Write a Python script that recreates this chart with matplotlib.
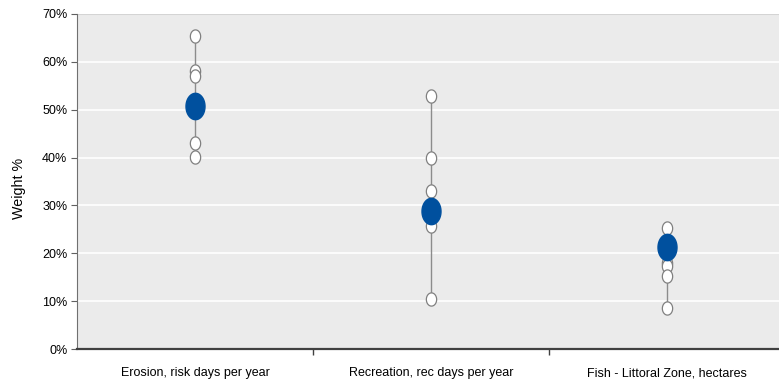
import matplotlib
matplotlib.use("Agg")
import matplotlib.pyplot as plt
import numpy as np
from matplotlib.path import Path
from matplotlib.ticker import FuncFormatter, FixedLocator

categories = ["Erosion, risk days per year", "Recreation, rec days per year", "Fish - Littoral Zone, hectares"]
individual = [
    [65.3, 58.0, 57.0, 43.0, 40.1],
    [52.8, 40.0, 33.0, 25.8, 10.4],
    [25.3, 17.9, 17.4, 15.3, 8.5],
]
means = [50.7, 28.9, 21.3]
yticks = [0, 10, 20, 30, 40, 50, 60, 70]

plt.rcParams['font.family'] = ['Liberation Sans', 'DejaVu Sans']

fig = plt.figure(figsize=(7.79, 3.8), dpi=100)
ax = fig.add_axes([77/779, 1-349/380, 708/779, 335/380])
ax.set_facecolor('#EBEBEB')

t = np.linspace(0, 2*np.pi, 60)
ell_small = Path(np.column_stack([0.78*np.cos(t), np.sin(t)]), closed=True)
ell_big = Path(np.column_stack([0.72*np.cos(t), np.sin(t)]), closed=True)

x = np.arange(len(categories))
for i, vals in enumerate(individual):
    ax.plot([x[i], x[i]], [min(vals), max(vals)], color='#8C8C8C', lw=1, zorder=2)
    ax.plot([x[i]]*len(vals), vals, linestyle='none', marker=ell_small, markersize=9.5,
            markerfacecolor='white', markeredgecolor='#808080', markeredgewidth=0.9, zorder=3)
ax.plot(x, means, linestyle='none', marker=ell_big, markersize=19,
        markerfacecolor='#00509E', markeredgecolor='#00509E', zorder=4)

ax.set_xlim(-0.5, len(categories) - 0.5)
ax.set_ylim(0, 70)
ax.set_yticks(yticks)
ax.yaxis.set_major_formatter(FuncFormatter(lambda v, p: f"{int(v)}%"))
ax.grid(axis='y', color='white', lw=1.2)
ax.set_axisbelow(True)

ax.set_xticks(x)
ax.set_xticklabels(categories, fontsize=9)
ax.xaxis.set_minor_locator(FixedLocator([0.5, 1.5]))
ax.tick_params(axis='x', which='major', length=0, pad=13)
ax.tick_params(axis='x', which='minor', length=4, color='#404040', width=1)
ax.tick_params(axis='y', length=4, color='#606060', labelsize=9, pad=3)

for s in ['top', 'right']:
    ax.spines[s].set_visible(False)
ax.spines['left'].set_color('#707070')
ax.spines['bottom'].set_color('#404040')
ax.spines['bottom'].set_linewidth(1.6)
ax.axhline(70, color='#D4D4D4', lw=1.5, zorder=1)

ax.set_ylabel("Weight %", fontsize=10.3)
ax.yaxis.set_label_coords(-0.072, 0.48)

fig.savefig("out.png", dpi=100)
